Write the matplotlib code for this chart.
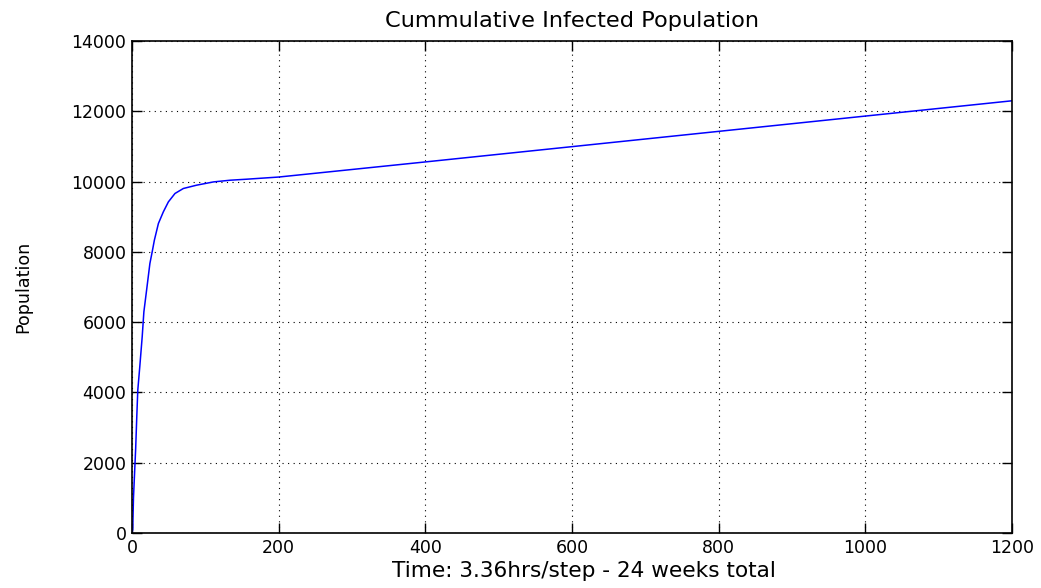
import matplotlib.pyplot as plt

# time step vs cumulative infected
steps = [0, 1, 2, 3.5, 5, 6.5, 7.9, 10.6, 13.9, 16.2, 19.9, 24.4, 27.7, 30.5, 36,
         42.7, 49.6, 58.6, 70, 88, 111, 134, 156, 200, 400, 600, 800, 1000, 1200]
infected = [0, 100, 1000, 1700, 2400, 3300, 4067, 4730, 5583, 6294, 6911, 7670, 8020,
            8333, 8808, 9138, 9423, 9662, 9804, 9898, 9991, 10040, 10068, 10130, 10560,
            10995, 11430, 11865, 12300]

fig = plt.figure(figsize=(10.41, 5.88), dpi=100)
ax = fig.add_axes([0.1268, 0.0935, 0.8454, 0.8367])

ax.plot(steps, infected, color="#0000ff", linewidth=1.1)

ax.set_xlim(0, 1200)
ax.set_ylim(0, 14000)
ax.set_xticks(range(0, 1201, 200))
ax.set_yticks(range(0, 14001, 2000))
ax.grid(True, color="black", linestyle=(0, (1, 4)), linewidth=0.8)
ax.tick_params(direction="in", length=7, width=1, top=True, right=True,
               labelsize=12.5, pad=4)
for s in ax.spines.values():
    s.set_linewidth(1.2)

ax.set_title("Cummulative Infected Population", fontsize=16.2, pad=10)
ax.set_xlabel("Time: 3.36hrs/step - 24 weeks total", fontsize=15.6, labelpad=3)
ax.xaxis.label.set_x(0.513)
ax.set_ylabel("Population", fontsize=12.6)
ax.yaxis.set_label_coords(-0.113, 0.5)

fig.savefig("out.png", dpi=100)
